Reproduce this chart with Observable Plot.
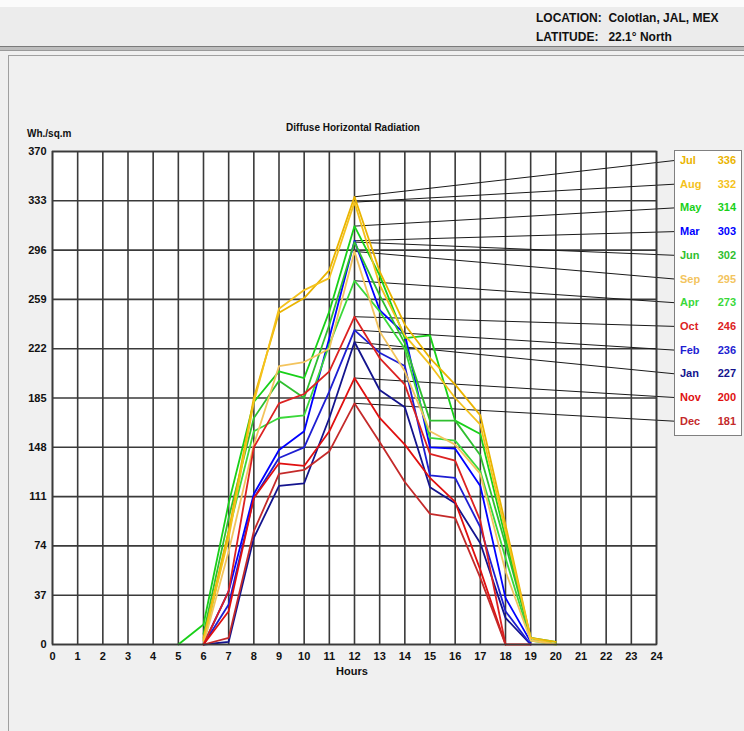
<!DOCTYPE html>
<html><head><meta charset="utf-8">
<script src="https://cdn.jsdelivr.net/npm/d3@7"></script>
<script src="https://cdn.jsdelivr.net/npm/@observablehq/plot@0.6"></script>
<style>
body{margin:0;width:744px;height:731px;background:#f0f0f0;position:relative;overflow:hidden;font-family:"Liberation Sans",Arial,sans-serif;}
.abs{position:absolute;}
.hdr{position:absolute;font-weight:bold;font-size:12px;color:#111;white-space:pre;}
#topstrip{left:0;top:0;width:744px;height:7px;background:#fbfbfb;}
#header{left:0;top:7px;width:744px;height:40px;background:#ececec;}
#rule{left:0;top:46px;width:744px;height:3px;background:#bdbdbd;border-top:1px solid #7a7a7a;border-bottom:1px solid #9a9a9a;}
#panel{left:8px;top:55px;width:740px;height:680px;background:#f0f0f0;border-left:1px solid #a0a0a0;border-top:1px solid #a0a0a0;}
#title{left:253px;top:122px;width:200px;text-align:center;font-weight:bold;font-size:10px;color:#111;}
#ylab{left:27px;top:128px;font-weight:bold;font-size:10px;color:#111;}
#xlab{left:320px;top:665px;width:64px;text-align:center;font-weight:bold;font-size:11px;color:#111;}
#chart{left:0;top:100px;}
#legend{left:674px;top:150px;width:66px;height:284px;background:#fff;border:1px solid #808080;}
.lg{position:absolute;font-weight:bold;font-size:11px;}
</style></head><body>
<div id="topstrip" class="abs"></div>
<div id="header" class="abs"></div>
<div class="hdr" style="left:536px;top:11px">LOCATION:  Colotlan, JAL, MEX</div>
<div class="hdr" style="left:536px;top:30px">LATITUDE:   22.1° North</div>
<div id="rule" class="abs"></div>
<div id="panel" class="abs"></div>
<div id="title" class="abs">Diffuse Horizontal Radiation</div>
<div id="ylab" class="abs">Wh./sq.m</div>
<div id="chart" class="abs"></div>
<div id="xlab" class="abs">Hours</div>
<div id="legend" class="abs"></div>
<script>
const hours = [0,1,2,3,4,5,6,7,8,9,10,11,12,13,14,15,16,17,18,19,20,21,22,23,24];
const yTicks = [0,37,74,111,148,185,222,259,296,333,370];
const months = ["Jan","Feb","Mar","Apr","May","Jun","Jul","Aug","Sep","Oct","Nov","Dec"];
const monthColors = ["#14148e","#1e1ed2","#0000ff","#3ad83a","#19d019","#2fbf2f","#eab400","#f4c21c","#f3c45e","#dc2222","#e01010","#c42a2a"];
const N = null;
const jan = [N,N,N,N,N,N,0,2,80,119,121,170,227,191,178,118,106,76,20,0,N,N,N,N,N];
const feb = [N,N,N,N,N,N,0,30,110,140,148,190,236,219,209,127,125,88,25,0,N,N,N,N,N];
const mar = [N,N,N,N,N,N,0,40,113,146,160,230,303,251,233,148,147,119,35,2,N,N,N,N,N];
const apr = [N,N,N,N,N,N,0,85,160,170,172,225,273,250,222,155,153,130,65,3,0,N,N,N,N];
const may = [N,N,N,N,N,0,15,106,182,205,200,250,314,277,230,232,168,158,80,5,0,N,N,N,N];
const jun = [N,N,N,N,N,N,8,95,170,198,185,240,302,262,226,168,168,142,75,5,2,N,N,N,N];
const jul = [N,N,N,N,N,N,5,85,185,249,260,281,336,280,240,215,195,172,90,5,2,N,N,N,N];
const aug = [N,N,N,N,N,N,3,80,182,252,266,275,332,270,232,210,185,165,85,5,0,N,N,N,N];
const sep = [N,N,N,N,N,N,0,70,150,209,212,222,295,235,205,160,150,128,55,3,0,N,N,N,N];
const oct = [N,N,N,N,N,N,0,40,148,181,188,205,246,215,195,143,138,93,0,0,N,N,N,N,N];
const nov = [N,N,N,N,N,N,0,25,110,136,134,160,200,170,150,125,107,56,0,N,N,N,N,N,N];
const dec = [N,N,N,N,N,N,0,5,85,128,131,145,181,152,122,98,95,50,0,N,N,N,N,N,N];
const series = [jan,feb,mar,apr,may,jun,jul,aug,sep,oct,nov,dec];
const legendOrder = ["Jul","Aug","May","Mar","Jun","Sep","Apr","Oct","Feb","Jan","Nov","Dec"];

// layout (pixels)
const W = 744, H = 600, mTop = 51, mLeft = 52, mRight = 88, mBottom = 56;
const plotW = W - mLeft - mRight, plotH = H - mTop - mBottom;
const legendLeftPx = 674, legendTopPx = 150, rowStep = 23.7, firstRowPx = 160;
const svgTop = 100;

const rows = [];
series.forEach((s, i) => s.forEach((v, j) => { if (v !== null) rows.push({month: months[i], hour: hours[j], value: v}); }));

const peak = m => { const s = series[months.indexOf(m)]; return d3.max(s); };
const peakHour = m => { const s = series[months.indexOf(m)]; return hours[s.indexOf(d3.max(s))]; };
// convert legend pixel positions to data coordinates
const xPx2Data = px => (px - mLeft) / plotW * 24;
const yPx2Data = py => 370 - (py - svgTop - mTop) / plotH * 370;
const leaders = legendOrder.map((m, i) => ({
  month: m, x1: peakHour(m), y1: peak(m),
  x2: xPx2Data(legendLeftPx), y2: yPx2Data(firstRowPx + i * rowStep)
}));

const plot = Plot.plot({
  width: W, height: H,
  marginTop: mTop, marginLeft: mLeft, marginRight: mRight, marginBottom: mBottom,
  style: {background: "transparent", fontFamily: "Liberation Sans, Arial, sans-serif"},
  x: {domain: [0, 24]},
  y: {domain: [0, 370]},
  color: {domain: months, range: monthColors},
  marks: [
    Plot.frame({fill: "#fff", stroke: null}),
    Plot.gridX(hours, {stroke: "#3a3a3a", strokeOpacity: 1, strokeWidth: 1.6}),
    Plot.gridY(yTicks, {stroke: "#3a3a3a", strokeOpacity: 1, strokeWidth: 1.6}),
    Plot.link(leaders, {x1: "x1", y1: "y1", x2: "x2", y2: "y2", stroke: "#1a1a1a", strokeWidth: 1}),
    Plot.line(rows, {x: "hour", y: "value", z: "month", stroke: "month", strokeWidth: 1.8}),
    Plot.frame({stroke: "#3a3a3a", strokeWidth: 1.6}),
    Plot.axisX({ticks: hours, tickSize: 0, tickPadding: 8, tickFormat: d => d, label: null, fontSize: 11, fontWeight: "bold", fill: "#111"}),
    Plot.axisY({ticks: yTicks, tickSize: 0, tickPadding: 6, tickFormat: d => d, label: null, fontSize: 11, fontWeight: "bold", fill: "#111"})
  ]
});
document.getElementById("chart").appendChild(plot);

const lg = document.getElementById("legend");
legendOrder.forEach((m, i) => {
  const c = monthColors[months.indexOf(m)];
  const cy = firstRowPx + i * rowStep - legendTopPx;
  const a = document.createElement("div");
  a.className = "lg"; a.style.left = "5px"; a.style.top = (cy - 7) + "px"; a.style.color = c; a.textContent = m;
  const b = document.createElement("div");
  b.className = "lg"; b.style.right = "5px"; b.style.top = (cy - 7) + "px"; b.style.color = c; b.textContent = peak(m);
  lg.appendChild(a); lg.appendChild(b);
});
</script>
</body></html>
